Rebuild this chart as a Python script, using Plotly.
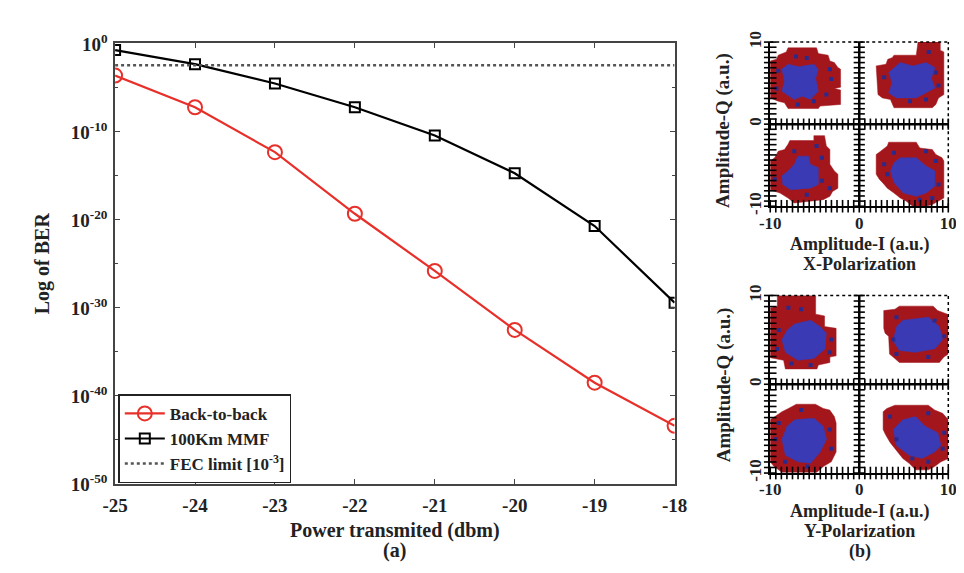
import plotly.graph_objects as go

# ---------------- main BER plot data ----------------
power_dbm = [-25, -24, -23, -22, -21, -20, -19, -18]
log_ber_b2b = [-3.6, -7.2, -12.3, -19.3, -25.8, -32.5, -38.5, -43.4]
log_ber_mmf = [-0.7, -2.3, -4.5, -7.2, -10.4, -14.7, -20.7, -29.4]
fec_limit = 3.8e-3
y_tick_exp = [0, -10, -20, -30, -40, -50]
y_minor_exp = [-5, -15, -25, -35, -45]

ber_b2b = [10 ** v for v in log_ber_b2b]
ber_mmf = [10 ** v for v in log_ber_mmf]

# ---------------- constellation data (I, Q) in a.u. ----------------
# X-polarization: red (outer) and blue (core) regions per cluster
xpol_red = [
    [(-8.2, 8.8), (-8.0, 9.3), (-4.8, 9.3), (-4.6, 8.6), (-3.5, 8.4), (-3.3, 7.7), (-2.8, 7.5), (-2.4, 6.9),
     (-2.1, 6.7), (-2.1, 4.5), (-2.8, 4.35), (-2.1, 4.15), (-2.1, 2.4), (-4.4, 2.2), (-4.6, 1.9), (-8.0, 1.9),
     (-8.4, 2.6), (-9.1, 2.8), (-10, 3.2), (-10, 7.7), (-9.3, 7.9), (-9.1, 8.4)],
    [(3.7, 8.1), (3.9, 8.4), (6.4, 8.4), (6.6, 10), (9.1, 10), (9.1, 9.0), (9.5, 8.8), (9.5, 3.6), (8.9, 3.2),
     (8.6, 2.4), (8.2, 2.0), (3.9, 2.0), (3.5, 3.0), (2.6, 3.2), (2.1, 3.6), (1.9, 7.1), (3.0, 7.3), (3.2, 7.9)],
    [(-8.0, -2.45), (-7.8, -2.0), (-5.1, -2.0), (-5.1, -1.4), (-3.9, -1.4), (-3.7, -2.65), (-3.3, -3.1),
     (-3.3, -4.9), (-2.8, -5.7), (-2.4, -6.1), (-2.4, -7.8), (-3.0, -8.2), (-3.3, -8.8), (-4.05, -9.2),
     (-7.3, -9.6), (-8.0, -9.0), (-8.9, -8.4), (-10, -8.0), (-10, -4.5), (-9.5, -4.1), (-9.1, -3.3), (-8.4, -3.1)],
    [(3.15, -2.65), (3.3, -2.2), (6.4, -2.2), (6.8, -2.9), (8.2, -3.1), (8.6, -3.7), (9.3, -4.1), (9.5, -4.5),
     (9.5, -9.0), (8.9, -9.4), (8.2, -9.8), (7.5, -10), (6.0, -10), (5.3, -9.4), (4.6, -9.0), (3.9, -8.4),
     (3.15, -7.8), (2.8, -7.35), (2.25, -6.7), (1.9, -6.1), (1.9, -3.7), (2.4, -3.3)],
]
xpol_blue = [
    [(-8.0, 7.3), (-6.8, 7.0), (-5.1, 7.3), (-4.6, 6.7), (-4.9, 5.6), (-4.6, 4.0), (-5.5, 3.0), (-6.4, 3.4),
     (-7.3, 3.0), (-8.7, 4.0), (-8.4, 5.3), (-8.7, 6.7)],
    [(4.6, 7.5), (6.0, 7.1), (7.5, 7.5), (8.5, 6.9), (8.1, 5.6), (8.5, 4.4), (6.4, 3.2), (4.2, 3.2), (3.3, 3.8),
     (3.7, 5.0), (3.3, 6.3)],
    [(-6.9, -3.9), (-5.7, -3.9), (-5.5, -4.9), (-4.6, -5.3), (-4.6, -7.35), (-5.5, -7.8), (-7.7, -8.0),
     (-8.6, -7.35), (-8.7, -6.3), (-8.0, -5.7), (-7.3, -4.9)],
    [(4.6, -4.1), (6.4, -4.1), (7.5, -5.1), (8.5, -5.7), (8.5, -7.55), (7.5, -8.4), (6.4, -8.8), (4.95, -8.4),
     (3.9, -7.1), (3.5, -5.7), (3.9, -4.7)],
]
xpol_dots = [(-7.1, 8.25), (-5.9, 8.05), (-3.3, 6.7), (-3.15, 5.5), (-9.1, 6.5), (-9.3, 4.35), (-3.7, 3.6),
             (-5.1, 2.8), (-6.9, 2.4),
             (7.8, 8.8), (2.8, 5.7), (8.9, 4.7), (8.6, 6.3), (5.7, 2.8), (7.5, 3.0),
             (-7.3, -3.3), (-4.8, -2.65), (-4.2, -4.1), (-9.5, -6.7), (-3.3, -7.8), (-5.9, -8.6), (-4.2, -6.9),
             (3.9, -3.5), (7.5, -3.3), (8.6, -4.5), (8.9, -7.35), (2.8, -4.9), (3.15, -6.1), (8.2, -9.0),
             (6.8, -9.2)]

# Y-polarization
ypol_red = [
    [(-9.2, 10), (-4.9, 10), (-4.9, 7.9), (-3.9, 7.7), (-3.9, 6.5), (-2.6, 6.3), (-2.6, 3.2), (-3.3, 3.06),
     (-3.3, 2.45), (-4.6, 2.16), (-4.75, 1.73), (-8.3, 1.73), (-8.5, 2.7), (-9.6, 2.9), (-10, 3.0), (-10, 8.6),
     (-9.2, 8.8)],
    [(4.0, 8.45), (4.5, 8.8), (8.3, 8.8), (8.8, 8.3), (9.9, 7.9), (10, 7.4), (10, 3.4), (9.5, 3.06), (9.0, 2.45),
     (4.5, 2.45), (4.0, 2.9), (3.4, 3.4), (3.3, 5.4), (2.9, 5.76), (2.75, 6.3), (2.75, 8.3)],
    [(-7.96, -2.73), (-7.07, -2.25), (-4.93, -2.25), (-4.04, -2.73), (-3.32, -2.9), (-2.8, -3.64), (-2.6, -4.36),
     (-2.6, -7.64), (-3.14, -8.73), (-4.04, -9.27), (-4.75, -9.9), (-8.68, -9.9), (-9.57, -9.27), (-10, -8.73),
     (-10, -4.0), (-9.2, -3.45), (-8.68, -3.09)],
    [(3.1, -2.73), (4.0, -2.36), (7.75, -2.36), (8.46, -2.9), (9.36, -3.27), (10, -4.0), (10, -8.36),
     (9.18, -8.73), (8.46, -9.27), (7.75, -9.64), (6.32, -9.64), (5.6, -8.9), (4.89, -8.36), (4.18, -7.45),
     (3.46, -6.55), (2.93, -5.64), (2.68, -5.1), (2.68, -3.09)],
]
ypol_blue = [
    [(-7.25, 6.8), (-5.46, 7.2), (-4.4, 6.5), (-3.7, 5.76), (-3.86, 3.96), (-5.1, 2.9), (-6.9, 2.7),
     (-8.3, 3.6), (-8.7, 5.0), (-8.1, 6.1)],
    [(4.9, 7.2), (7.75, 7.55), (9.0, 6.5), (9.36, 5.0), (8.5, 4.0), (6.3, 3.6), (4.5, 3.8), (3.8, 4.9),
     (4.2, 6.5)],
    [(-7.25, -4.0), (-5.1, -3.82), (-4.04, -4.73), (-3.68, -6.18), (-4.39, -7.64), (-5.46, -8.9), (-6.9, -8.73),
     (-8.3, -8.0), (-8.7, -6.18), (-8.1, -4.73)],
    [(4.89, -4.0), (6.32, -3.64), (7.39, -4.73), (8.82, -5.45), (9.18, -6.9), (8.46, -7.64), (7.04, -8.36),
     (5.6, -8.0), (4.18, -6.9), (3.82, -5.1)],
]
ypol_dots = [(-7.96, 8.63), (-6.54, 8.45), (-9.04, 6.12), (-9.21, 3.96), (-3.14, 5.04), (-3.32, 3.6),
             (-5.46, 2.16), (-7.61, 2.34),
             (4.18, 7.55), (8.46, 7.19), (9.54, 5.4), (3.82, 5.04), (4.18, 3.42), (7.75, 3.06),
             (-9.04, -4.36), (-9.39, -6.18), (-6.54, -2.91), (-3.32, -5.09), (-3.14, -7.27), (-8.32, -8.73),
             (-5.82, -9.27),
             (3.46, -3.64), (7.75, -3.27), (9.54, -5.45), (9.36, -7.27), (4.18, -6.18), (5.96, -8.36),
             (7.75, -8.73)]

const_ticks = [-10, 0, 10]
axis_tick_step = 0.625

# ---------------- styling ----------------
FONT = "Liberation Serif"
RED = "#e8302a"
BLOB_RED = "#a3161c"
BLOB_BLUE = "#3a3ab4"
DOT_BLUE = "#2a2a8c"

fig = go.Figure()

fig.add_trace(go.Scatter(x=power_dbm, y=ber_b2b, mode="lines+markers", name="Back-to-back",
                         line=dict(color=RED, width=2.2),
                         marker=dict(symbol="circle-open", size=14, color=RED, line=dict(width=2, color=RED)),
                         xaxis="x", yaxis="y"))
fig.add_trace(go.Scatter(x=power_dbm, y=ber_mmf, mode="lines+markers", name="100Km MMF",
                         line=dict(color="black", width=2.2),
                         marker=dict(symbol="square-open", size=10, color="black", line=dict(width=2, color="black")),
                         xaxis="x", yaxis="y"))
fig.add_trace(go.Scatter(x=[power_dbm[0], power_dbm[-1]], y=[fec_limit, fec_limit], mode="lines",
                         name="FEC limit [10<sup>-3</sup>]",
                         line=dict(color="#555555", width=2.5, dash="dot"), xaxis="x", yaxis="y"))


def add_constellation(red_list, blue_list, dots, xa, ya):
    for poly in red_list:
        xs = [p[0] for p in poly] + [poly[0][0]]
        ys = [p[1] for p in poly] + [poly[0][1]]
        fig.add_trace(go.Scatter(x=xs, y=ys, mode="lines", fill="toself", fillcolor=BLOB_RED,
                                 line=dict(width=0.5, color=BLOB_RED), showlegend=False, hoverinfo="skip",
                                 xaxis=xa, yaxis=ya))
    for poly in blue_list:
        xs = [p[0] for p in poly] + [poly[0][0]]
        ys = [p[1] for p in poly] + [poly[0][1]]
        fig.add_trace(go.Scatter(x=xs, y=ys, mode="lines", fill="toself", fillcolor=BLOB_BLUE,
                                 line=dict(width=0.5, color=BLOB_BLUE), showlegend=False, hoverinfo="skip",
                                 xaxis=xa, yaxis=ya))
    fig.add_trace(go.Scatter(x=[d[0] for d in dots], y=[d[1] for d in dots], mode="markers",
                             marker=dict(symbol="square", size=4, color=DOT_BLUE), showlegend=False,
                             hoverinfo="skip", xaxis=xa, yaxis=ya))
    # crossing tick marks along the zero lines and left/bottom edges
    n = int(round(20 / axis_tick_step))
    pos = [-10 + i * axis_tick_step for i in range(n + 1)]
    zeros = [0] * len(pos)
    edge = [-10] * len(pos)
    for xx, yy, sym, sz in [(pos, zeros, "line-ns", 8), (zeros, pos, "line-ew", 8),
                            (edge, pos, "line-ew", 9), (pos, edge, "line-ns", 9)]:
        fig.add_trace(go.Scatter(x=xx, y=yy, mode="markers", cliponaxis=False,
                                 marker=dict(symbol=sym, size=sz, line=dict(width=1.6, color="black")),
                                 showlegend=False, hoverinfo="skip", xaxis=xa, yaxis=ya))


add_constellation(xpol_red, xpol_blue, xpol_dots, "x2", "y2")
add_constellation(ypol_red, ypol_blue, ypol_dots, "x3", "y3")

W, H = 964, 573
main_x = [96.7 / W, 671.7 / W]
main_y = [1 - 483.3 / H, 1 - 24 / H]
pan_x = [770 / W, 953 / W]
panX_y = [1 - 194 / H, 1 - 23 / H]
panY_y = [1 - 472 / H, 1 - 287 / H]

tickfont = dict(family=FONT, size=19, color="#222222", weight="bold")

const_ax = dict(range=[-10, 10], tickvals=const_ticks, ticktext=[str(t) for t in const_ticks],
                ticks="", showline=True, linecolor="black", linewidth=2, showgrid=False, zeroline=False,
                tickfont=dict(family=FONT, size=17, color="#222222", weight="bold"), fixedrange=True,
                ticklabelstandoff=0)

fig.update_layout(
    width=W, height=H, margin=dict(l=0, r=0, t=0, b=0),
    paper_bgcolor="white", plot_bgcolor="white",
    showlegend=True,
    legend=dict(x=100 / W, y=1 - 390 / H, xanchor="left", yanchor="top", bgcolor="white",
                bordercolor="#222222", borderwidth=1.5,
                font=dict(family=FONT, size=17, color="#222222", weight="bold"),
                tracegroupgap=2, itemwidth=40),
    xaxis=dict(domain=main_x, anchor="y", range=[-25, -18], tickvals=power_dbm,
               ticktext=[str(p) for p in power_dbm], ticks="inside", ticklen=5, tickcolor="#444444",
               showline=True, linecolor="#444444", linewidth=1.5, mirror="ticks", showgrid=False,
               zeroline=False, tickfont=tickfont, ticklabelstandoff=4),
    yaxis=dict(domain=main_y, anchor="x", type="log", range=[-50, 0.1],
               tickvals=[10 ** e for e in y_tick_exp],
               ticktext=["10<sup>%d</sup>" % e for e in y_tick_exp],
               ticks="inside", ticklen=5, tickcolor="#444444", showline=True, linecolor="#444444",
               linewidth=1.5, mirror="ticks", showgrid=False, zeroline=False, tickfont=tickfont,
               ticklabelstandoff=2,
               minor=dict(tickvals=[10 ** e for e in y_minor_exp], ticks="inside", ticklen=3,
                          tickcolor="#444444")),
    xaxis2=dict(domain=pan_x, anchor="y2", **const_ax),
    yaxis2=dict(domain=panX_y, anchor="x2", tickangle=-90, **const_ax),
    xaxis3=dict(domain=pan_x, anchor="y3", **const_ax),
    yaxis3=dict(domain=panY_y, anchor="x3", tickangle=-90, **const_ax),
)

# dotted top/right borders and zero cross lines of the constellation panels
for xa, ya in [("x2", "y2"), ("x3", "y3")]:
    fig.add_shape(type="line", xref=xa + " domain", yref=ya + " domain", x0=0, x1=1, y0=1, y1=1,
                  line=dict(color="black", width=1.5, dash="dot"))
    fig.add_shape(type="line", xref=xa + " domain", yref=ya + " domain", x0=1, x1=1, y0=0, y1=1,
                  line=dict(color="black", width=1.5, dash="dot"))
    fig.add_shape(type="line", xref=xa, yref=ya, x0=-10, x1=10, y0=0, y1=0,
                  line=dict(color="black", width=2.5))
    fig.add_shape(type="line", xref=xa, yref=ya, x0=0, x1=0, y0=-10, y1=10,
                  line=dict(color="black", width=2.5))

title_font = dict(family=FONT, size=20, color="#222222", weight="bold")


def ann(text, x, y, angle=0, size=20):
    f = dict(title_font)
    f["size"] = size
    fig.add_annotation(text=text, x=x / W, y=1 - y / H, xref="paper", yref="paper", showarrow=False,
                       textangle=angle, font=f, xanchor="center", yanchor="middle")


ann("Log of BER", 22, 253, angle=-90)
ann("Power transmited (dbm)", 384, 532)
ann("(a)", 384, 553)
ann("Amplitude-Q (a.u.)", 722, 115, angle=-90, size=19)
ann("Amplitude-I (a.u.)", 862, 234, size=18)
ann("X-Polarization", 862, 254, size=18)
ann("Amplitude-Q (a.u.)", 722, 380, angle=-90, size=19)
ann("Amplitude-I (a.u.)", 862, 512, size=18)
ann("Y-Polarization", 862, 532, size=18)
ann("(b)", 862, 554, size=18)

fig.write_html("out.html")
